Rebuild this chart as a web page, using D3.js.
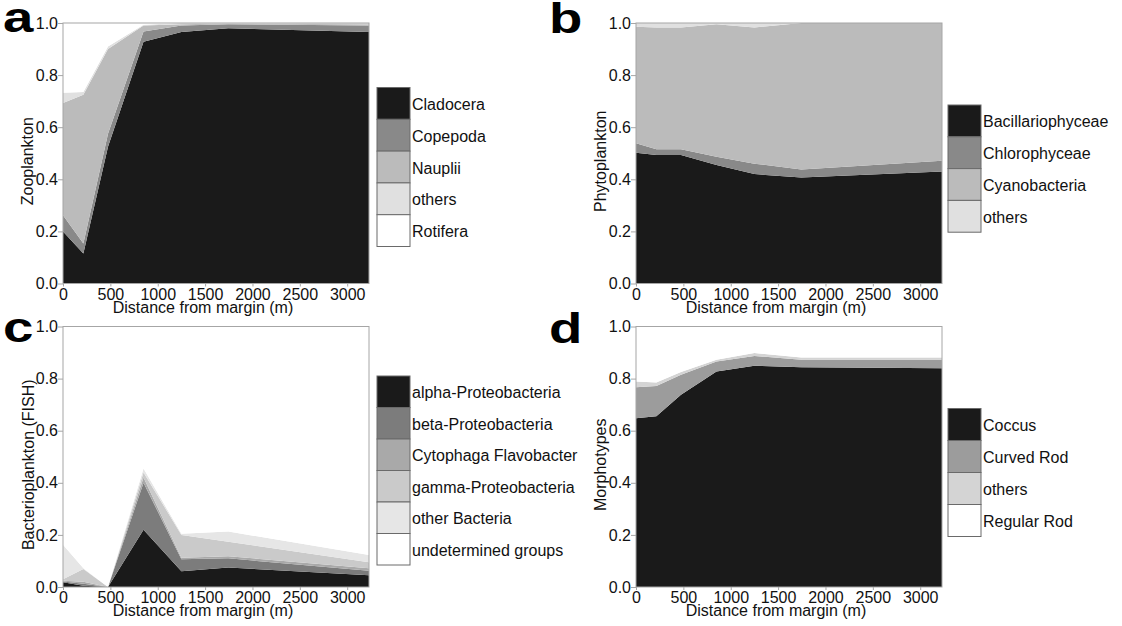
<!DOCTYPE html>
<html>
<head>
<meta charset="utf-8">
<script src="https://cdn.jsdelivr.net/npm/d3@7"></script>
<style>
  body { margin: 0; background: #fff; }
  svg { font-family: "Liberation Sans", Arial, sans-serif; }
</style>
</head>
<body>
<div id="canvas"></div>
<script>
// sampling stations (m from margin), shared by all four panels
var distances = [0, 215, 475, 850, 1250, 1745, 3230];
var xTicks = [0, 500, 1000, 1500, 2000, 2500, 3000];
var yTicks = [0, 0.2, 0.4, 0.6, 0.8, 1.0];

// a - zooplankton shares
var zooTaxa = ["Cladocera", "Copepoda", "Nauplii", "others", "Rotifera"];
var zooValues = [
  [0.200, 0.115, 0.525, 0.928, 0.965, 0.980, 0.965],
  [0.062, 0.039, 0.050, 0.039, 0.025, 0.015, 0.025],
  [0.431, 0.571, 0.325, 0.023, 0.005, 0.003, 0.005],
  [0.039, 0.010, 0.010, 0.003, 0.005, 0.002, 0.005],
  [0.268, 0.265, 0.090, 0.007, 0.000, 0.000, 0.000]
];

// b - phytoplankton shares
var phytoTaxa = ["Bacillariophyceae", "Chlorophyceae", "Cyanobacteria", "others"];
var phytoValues = [
  [0.502, 0.493, 0.493, 0.455, 0.420, 0.407, 0.430],
  [0.036, 0.022, 0.022, 0.032, 0.040, 0.031, 0.041],
  [0.448, 0.468, 0.468, 0.508, 0.523, 0.562, 0.529],
  [0.014, 0.017, 0.017, 0.005, 0.017, 0.000, 0.000]
];

// c - bacterioplankton (FISH)
var bactTaxa = ["alpha-Proteobacteria", "beta-Proteobacteria", "Cytophaga Flavobacter",
                "gamma-Proteobacteria", "other Bacteria", "undetermined groups"];
var bactValues = [
  [0.018, 0.005, 0.000, 0.220, 0.060, 0.075, 0.045],
  [0.003, 0.007, 0.000, 0.180, 0.047, 0.035, 0.017],
  [0.003, 0.008, 0.000, 0.020, 0.005, 0.008, 0.010],
  [0.006, 0.049, 0.000, 0.020, 0.088, 0.056, 0.023],
  [0.132, 0.003, 0.000, 0.015, 0.004, 0.039, 0.028],
  [0.838, 0.928, 1.000, 0.545, 0.796, 0.787, 0.877]
];

// d - morphotypes
var morphoTaxa = ["Coccus", "Curved Rod", "others", "Regular Rod"];
var morphoValues = [
  [0.648, 0.655, 0.738, 0.827, 0.849, 0.844, 0.840],
  [0.119, 0.117, 0.077, 0.039, 0.038, 0.028, 0.032],
  [0.022, 0.013, 0.010, 0.006, 0.011, 0.009, 0.009],
  [0.211, 0.215, 0.175, 0.128, 0.102, 0.119, 0.119]
];

var grey5 = ["#1a1a1a", "#898989", "#bbbbbb", "#e0e0e0", "#ffffff"];
var grey6 = ["#1a1a1a", "#7c7c7c", "#a9a9a9", "#cacaca", "#e6e6e6", "#ffffff"];
var grey4 = ["#1a1a1a", "#9c9c9c", "#d4d4d4", "#ffffff"];

var w = 1122, h = 626;
var svg = d3.select("#canvas").append("svg").attr("width", w).attr("height", h);

var panels = [
  {letter: "a", lx: 3, ly: 32, taxa: zooTaxa, values: zooValues, colors: grey5, ylabel: "Zooplankton",
   left: 63, top: 23, labX: 33, legX: 377, legTop: 87.5, keyH: 31.8},
  {letter: "b", lx: 549, ly: 33, taxa: phytoTaxa, values: phytoValues, colors: grey5, ylabel: "Phytoplankton",
   left: 636, top: 23, labX: 606, legX: 948, legTop: 105, keyH: 31.8},
  {letter: "c", lx: 3, ly: 342, taxa: bactTaxa, values: bactValues, colors: grey6, ylabel: "Bacterioplankton (FISH)",
   left: 63, top: 326.5, labX: 34, legX: 377, legTop: 376, keyH: 31.5},
  {letter: "d", lx: 549, ly: 343, taxa: morphoTaxa, values: morphoValues, colors: grey4, ylabel: "Morphotypes",
   left: 636, top: 326.5, labX: 606, legX: 948, legTop: 408.5, keyH: 32}
];

var plotW = 306, plotH = 260.5;

panels.forEach(function(p, pi) {
  var x = d3.scaleLinear().domain([0, 3230]).range([p.left, p.left + plotW]);
  var y = d3.scaleLinear().domain([0, 1]).range([p.top + plotH, p.top]);

  var rows = distances.map(function(d, i) {
    var r = {dist: d};
    p.taxa.forEach(function(t, k) { r[t] = p.values[k][i]; });
    return r;
  });
  var series = d3.stack().keys(p.taxa)(rows);

  var area = d3.area()
      .x(function(d) { return x(d.data.dist); })
      .y0(function(d) { return y(d[0]); })
      .y1(function(d) { return y(Math.min(d[1], 1)); });

  svg.append("clipPath").attr("id", "clip" + pi)
    .append("rect").attr("x", p.left).attr("y", p.top).attr("width", plotW).attr("height", plotH);

  svg.append("g").attr("clip-path", "url(#clip" + pi + ")")
    .selectAll("path").data(series).enter().append("path")
      .attr("d", area)
      .style("fill", function(d, k) { return p.colors[k]; });

  // frame
  svg.append("rect")
      .attr("x", p.left).attr("y", p.top).attr("width", plotW).attr("height", plotH)
      .style("fill", "none").style("stroke", "#a6a6a6").style("stroke-width", 1);

  var yAxis = svg.append("g").attr("transform", "translate(" + p.left + ",0)")
      .call(d3.axisLeft(y).tickValues(yTicks).tickFormat(d3.format(".1f")).tickSize(5).tickPadding(0));
  var xAxis = svg.append("g").attr("transform", "translate(0," + (p.top + plotH) + ")")
      .call(d3.axisBottom(x).tickValues(xTicks).tickFormat(d3.format("d")).tickSize(3).tickPadding(2));
  [yAxis, xAxis].forEach(function(g) {
    g.select(".domain").remove();
    g.selectAll("line").style("stroke", "#a6a6a6");
    g.selectAll("text").style("font-size", "16px").style("fill", "#111")
      .style("font-family", '"Liberation Sans", Arial, sans-serif');
  });

  svg.append("text")
      .attr("x", p.left + plotW / 2 - 13).attr("y", p.top + plotH + 29)
      .attr("text-anchor", "middle").style("font-size", "16px").style("fill", "#111")
      .text("Distance from margin (m)");

  svg.append("text")
      .attr("transform", "translate(" + p.labX + "," + (p.top + plotH / 2 + 8) + ") rotate(-90)")
      .attr("text-anchor", "middle").style("font-size", "16px").style("fill", "#111")
      .text(p.ylabel);

  // panel letter
  svg.append("text")
      .attr("transform", "translate(" + p.lx + "," + p.ly + ") scale(1.3,1)")
      .style("font-size", "42px").style("font-weight", "bold").style("fill", "#000")
      .text(p.letter);

  // legend
  var leg = svg.append("g");
  p.taxa.forEach(function(t, k) {
    leg.append("rect")
        .attr("x", p.legX).attr("y", p.legTop + k * p.keyH)
        .attr("width", 33).attr("height", p.keyH)
        .style("fill", p.colors[k]).style("stroke", "#6a6a6a").style("stroke-width", 1);
    leg.append("text")
        .attr("x", p.legX + 35).attr("y", p.legTop + k * p.keyH + p.keyH / 2 + 6.5)
        .style("font-size", "16px").style("fill", "#111")
        .text(t);
  });
});
</script>
</body>
</html>
